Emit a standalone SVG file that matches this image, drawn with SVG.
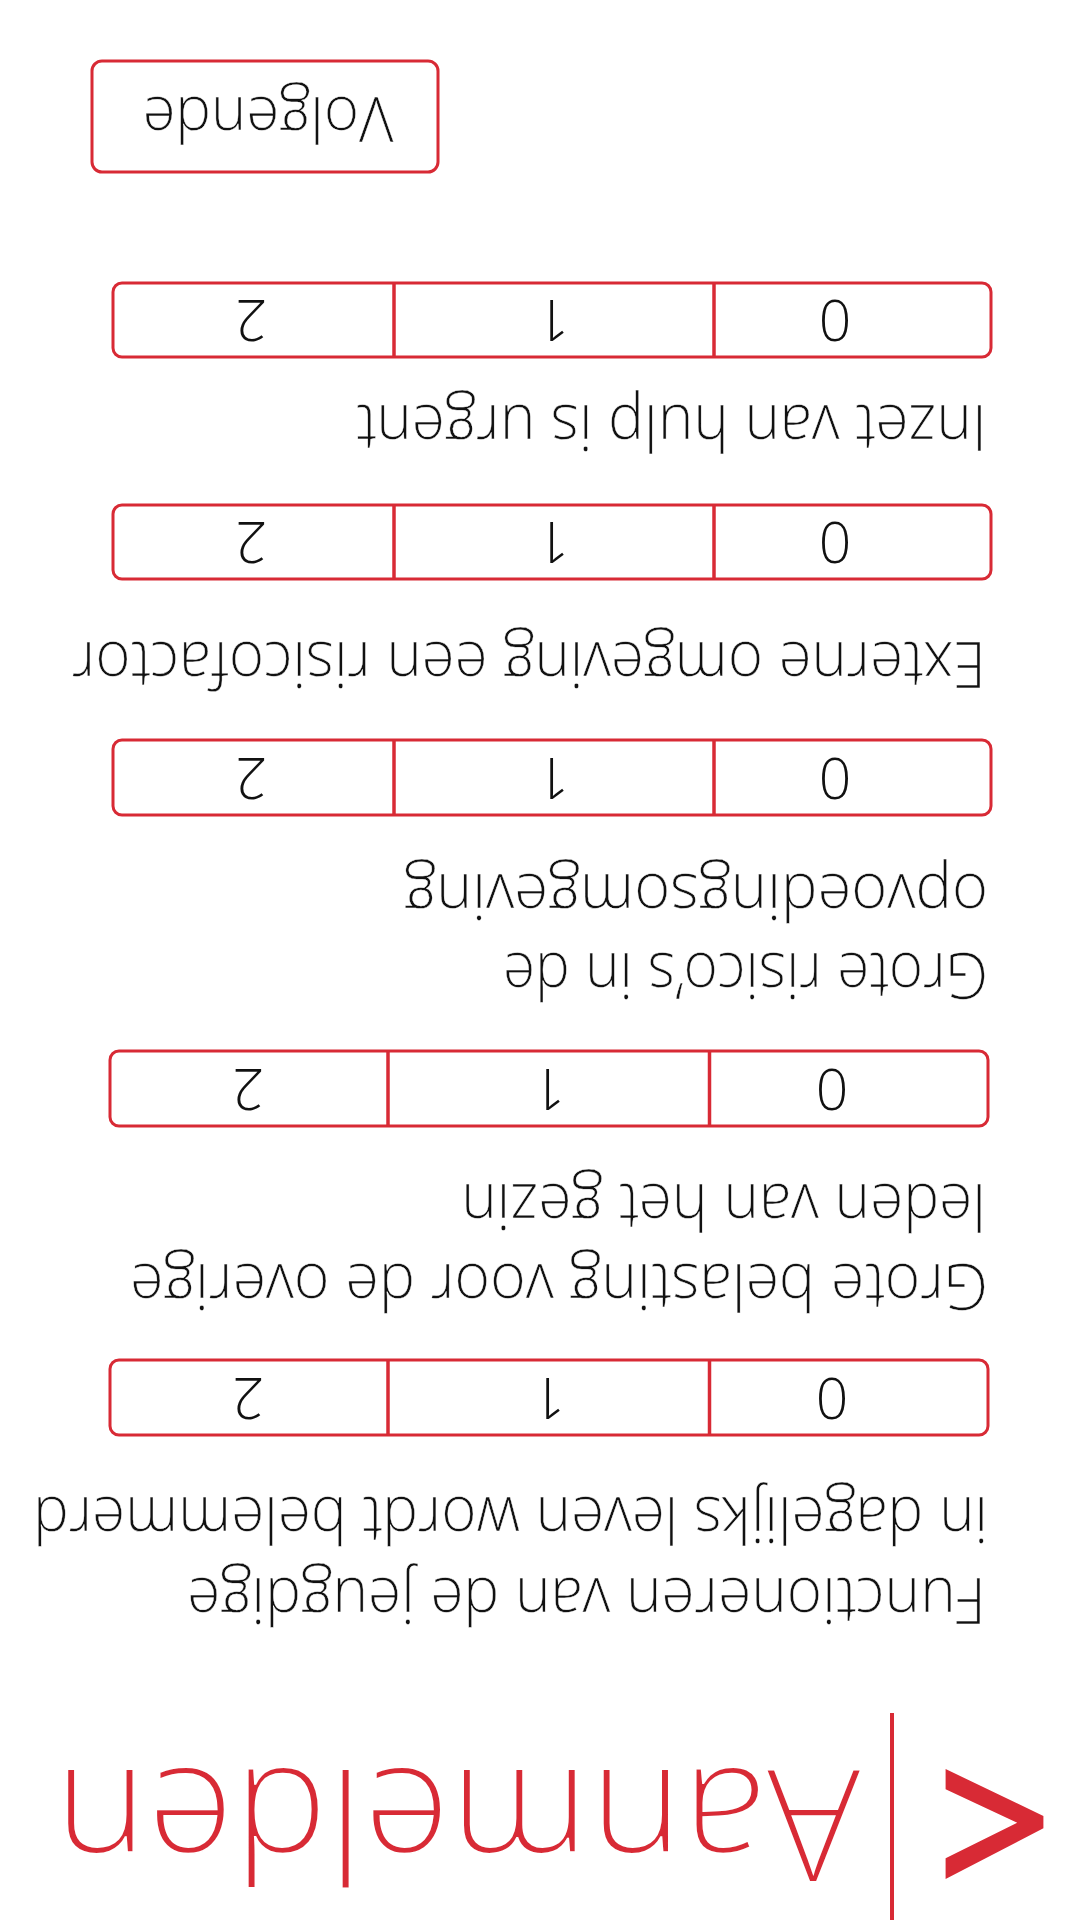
<svg xmlns="http://www.w3.org/2000/svg" width="1080" height="1920" viewBox="0 0 1080 1920">
<style>
.lbl{font-family:"Open Sans","Noto Sans","Liberation Sans",sans-serif;font-weight:300;font-size:65px;fill:#111;stroke:#fff;stroke-width:0.4px}
.dig{font-family:"Open Sans","Noto Sans","Liberation Sans",sans-serif;font-weight:300;font-size:57px;fill:#111;text-anchor:middle}
.box{fill:#fff;stroke:#d82a35;stroke-width:3}
.div{stroke:#d82a35;stroke-width:3.5}
.title{font-family:"Open Sans","Noto Sans","Liberation Sans",sans-serif;font-weight:300;font-size:157px;fill:#d82a35;stroke:#fff;stroke-width:1.8px}
</style>
<rect width="1080" height="1920" fill="#fff"/>
<g transform="rotate(180 540 960)">
  <g id="header">
    <polygon points="134.4,151 36.6,104 36.6,91.7 134.4,41 134.4,61.7 62.8,97.3 134.4,130.7" fill="#d82a35"/>
    <line x1="188" y1="0" x2="188" y2="207" stroke="#d82a35" stroke-width="4"/>
    <text class="title" x="219" y="151" textLength="807" lengthAdjust="spacingAndGlyphs">Aanmelden</text>
  </g>
  <g id="row-functioneren">
    <text class="lbl" x="94" y="342" textLength="799" lengthAdjust="spacingAndGlyphs">Functioneren van de jeugdige</text>
    <text class="lbl" x="92" y="423" textLength="955" lengthAdjust="spacingAndGlyphs">in dagelijks leven wordt belemmerd</text>
    <rect class="box" x="92" y="485" width="878" height="75" rx="9"/>
    <line class="div" x1="370.5" y1="485" x2="370.5" y2="560"/>
    <line class="div" x1="692" y1="485" x2="692" y2="560"/>
    <text class="dig" x="248" y="542.5">0</text>
    <text class="dig" x="531" y="542.5">1</text>
    <text class="dig" x="832" y="542.5">2</text>
  </g>
  <g id="row-belasting">
    <text class="lbl" x="92" y="656" textLength="858" lengthAdjust="spacingAndGlyphs">Grote belasting voor de overige</text>
    <text class="lbl" x="94" y="736" textLength="525" lengthAdjust="spacingAndGlyphs">leden van het gezin</text>
    <rect class="box" x="92" y="794" width="878" height="75" rx="9"/>
    <line class="div" x1="370.5" y1="794" x2="370.5" y2="869"/>
    <line class="div" x1="692" y1="794" x2="692" y2="869"/>
    <text class="dig" x="248" y="851.5">0</text>
    <text class="dig" x="531" y="851.5">1</text>
    <text class="dig" x="832" y="851.5">2</text>
  </g>
  <g id="row-opvoeding">
    <text class="lbl" x="92" y="967" textLength="485" lengthAdjust="spacingAndGlyphs">Grote risico’s in de</text>
    <text class="lbl" x="92" y="1046" textLength="584" lengthAdjust="spacingAndGlyphs">opvoedingsomgeving</text>
    <rect class="box" x="89" y="1105" width="878" height="75" rx="9"/>
    <line class="div" x1="366" y1="1105" x2="366" y2="1180"/>
    <line class="div" x1="686" y1="1105" x2="686" y2="1180"/>
    <text class="dig" x="245" y="1162.5">0</text>
    <text class="dig" x="527" y="1162.5">1</text>
    <text class="dig" x="829" y="1162.5">2</text>
  </g>
  <g id="row-extern">
    <text class="lbl" x="94" y="1278" textLength="914" lengthAdjust="spacingAndGlyphs">Externe omgeving een risicofactor</text>
    <rect class="box" x="89" y="1341" width="878" height="74" rx="9"/>
    <line class="div" x1="366" y1="1341" x2="366" y2="1415"/>
    <line class="div" x1="686" y1="1341" x2="686" y2="1415"/>
    <text class="dig" x="245" y="1398">0</text>
    <text class="dig" x="527" y="1398">1</text>
    <text class="dig" x="829" y="1398">2</text>
  </g>
  <g id="row-urgent">
    <text class="lbl" x="93" y="1515" textLength="631" lengthAdjust="spacingAndGlyphs">Inzet van hulp is urgent</text>
    <rect class="box" x="89" y="1563" width="878" height="74" rx="9"/>
    <line class="div" x1="366" y1="1563" x2="366" y2="1637"/>
    <line class="div" x1="686" y1="1563" x2="686" y2="1637"/>
    <text class="dig" x="245" y="1620">0</text>
    <text class="dig" x="527" y="1620">1</text>
    <text class="dig" x="829" y="1620">2</text>
  </g>
  <g id="btn-volgende">
    <rect x="642" y="1748" width="346" height="111" rx="10" fill="#fff" stroke="#d82a35" stroke-width="3"/>
    <text class="lbl" x="812" y="1823" style="font-size:63px" text-anchor="middle" textLength="251" lengthAdjust="spacingAndGlyphs">Volgende</text>
  </g>
  <g id="connectors"/>
</g>
</svg>
